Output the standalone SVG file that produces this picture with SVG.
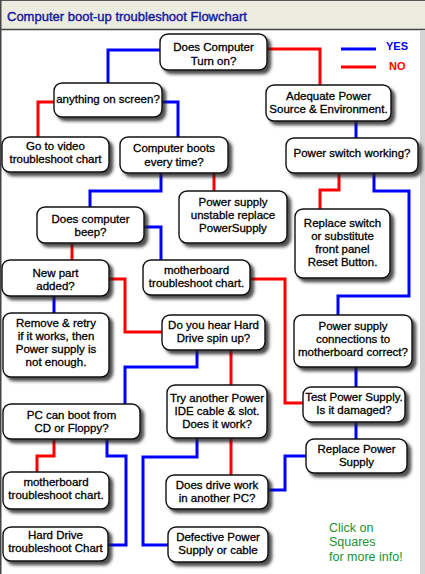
<svg xmlns="http://www.w3.org/2000/svg" width="425" height="574" viewBox="0 0 425 574">
<defs>
<filter id="sh" x="-10%" y="-10%" width="130%" height="140%">
<feDropShadow dx="3.5" dy="3.5" stdDeviation="1.8" flood-color="#222" flood-opacity="0.8"/>
</filter>
<style>
.box{fill:#fff;stroke:#111;stroke-width:1.4;filter:url(#sh)}
.t{font-family:"Liberation Sans",Arial,sans-serif;font-size:11.5px;fill:#000;text-anchor:middle;stroke:#000;stroke-width:0.3}
.y{fill:none;stroke:#0000ff;stroke-width:3}
.n{fill:none;stroke:#ff0000;stroke-width:3}
</style>
</defs>
<rect x="0" y="0" width="425" height="574" fill="#fff"/>
<rect x="0" y="0" width="425" height="30" fill="#ecebe0"/>
<line x1="0" y1="29.5" x2="425" y2="29.5" stroke="#444" stroke-width="1.5"/>
<line x1="0" y1="0.5" x2="425" y2="0.5" stroke="#555" stroke-width="1"/>
<line x1="0.75" y1="0" x2="0.75" y2="574" stroke="#444" stroke-width="1.5"/>
<rect x="420" y="30" width="5" height="544" fill="#d4d4d4"/>
<text x="7" y="21" font-family="Liberation Sans,Arial,sans-serif" font-size="13" fill="#16169c" stroke="#16169c" stroke-width="0.4">Computer boot-up troubleshoot Flowchart</text>

<g id="legend">
<line x1="341" y1="49" x2="376" y2="49" class="y"/>
<line x1="341" y1="67" x2="376" y2="67" class="n"/>
<text x="386" y="50" font-family="Liberation Sans,Arial,sans-serif" font-size="11" font-weight="bold" fill="#0000ff">YES</text>
<text x="389" y="70" font-family="Liberation Sans,Arial,sans-serif" font-size="11" font-weight="bold" fill="#ff0000">NO</text>
</g>

<g id="connectors">
<path class="y" d="M160,50 H108 V83"/>
<path class="n" d="M267,49 H320 V85"/>
<path class="n" d="M54,102 H38 V137"/>
<path class="y" d="M162,102 H178 V137"/>
<path class="y" d="M356,121 V138"/>
<path class="n" d="M339,173 V190 H320 V209"/>
<path class="y" d="M374,173 V191 H409 V296 H338 V315"/>
<path class="y" d="M161,173 V191 H90 V207"/>
<path class="n" d="M214,173 V191"/>
<path class="y" d="M144,227 H161 V260"/>
<path class="n" d="M72,243 V260"/>
<path class="n" d="M109,279 H125 V332 H162"/>
<path class="y" d="M54,296 V313"/>
<path class="n" d="M250,279 H285 V403 H303"/>
<path class="y" d="M356,367 V387"/>
<path class="y" d="M356,422 V439"/>
<path class="y" d="M197,350 V367 H125 V404"/>
<path class="n" d="M231,350 V385"/>
<path class="n" d="M54,439 V456 H37 V472"/>
<path class="y" d="M107,439 V456 H126 V545 H108"/>
<path class="y" d="M197,438 V457 H143 V545 H168"/>
<path class="n" d="M231,438 V475"/>
<path class="y" d="M268,490 H285 V456 H306"/>
</g>

<g id="n1"><rect class="box" x="160" y="34" width="107" height="36" rx="8"/><text class="t" x="213.5" y="51">Does Computer</text><text class="t" x="213.5" y="65">Turn on?</text></g>
<g id="n2"><rect class="box" x="54" y="83" width="108" height="34" rx="8"/><text class="t" x="108" y="103">anything on screen?</text></g>
<g id="n3"><rect class="box" x="2" y="137" width="107" height="35" rx="8"/><text class="t" x="55.5" y="150">Go to video</text><text class="t" x="55.5" y="163">troubleshoot chart</text></g>
<g id="n4"><rect class="box" x="120" y="137" width="108" height="36" rx="8"/><text class="t" x="174" y="152">Computer boots</text><text class="t" x="174" y="166">every time?</text></g>
<g id="n5"><rect class="box" x="266" y="85" width="125" height="36" rx="8"/><text class="t" x="328.5" y="100">Adequate Power</text><text class="t" x="328.5" y="113">Source &amp; Environment.</text></g>
<g id="n6"><rect class="box" x="286" y="138" width="132" height="35" rx="8"/><text class="t" x="352" y="157">Power switch working?</text></g>
<g id="n7"><rect class="box" x="179" y="191" width="108" height="52" rx="8"/><text class="t" x="233" y="206">Power supply</text><text class="t" x="233" y="219">unstable replace</text><text class="t" x="233" y="232">PowerSupply</text></g>
<g id="n8"><rect class="box" x="295" y="209" width="95" height="69" rx="8"/><text class="t" x="342.5" y="227">Replace switch</text><text class="t" x="342.5" y="240">or substitute</text><text class="t" x="342.5" y="253">front panel</text><text class="t" x="342.5" y="266">Reset Button.</text></g>
<g id="n9"><rect class="box" x="37" y="207" width="107" height="36" rx="8"/><text class="t" x="90.5" y="223">Does computer</text><text class="t" x="90.5" y="236">beep?</text></g>
<g id="n10"><rect class="box" x="2" y="260" width="107" height="36" rx="8"/><text class="t" x="55.5" y="277">New part</text><text class="t" x="55.5" y="290">added?</text></g>
<g id="n11"><rect class="box" x="143" y="260" width="107" height="35" rx="8"/><text class="t" x="196.5" y="274">motherboard</text><text class="t" x="196.5" y="287">troubleshoot chart.</text></g>
<g id="n12"><rect class="box" x="3" y="313" width="106" height="64" rx="8"/><text class="t" x="56" y="327">Remove &amp; retry</text><text class="t" x="56" y="340">if it works, then</text><text class="t" x="56" y="353">Power supply is</text><text class="t" x="56" y="366">not enough.</text></g>
<g id="n13"><rect class="box" x="162" y="315" width="103" height="35" rx="8"/><text class="t" x="213.5" y="329">Do you hear Hard</text><text class="t" x="213.5" y="342">Drive spin up?</text></g>
<g id="n14"><rect class="box" x="294" y="315" width="118" height="52" rx="8"/><text class="t" x="353" y="330">Power supply</text><text class="t" x="353" y="343">connections to</text><text class="t" x="353" y="356">motherboard correct?</text></g>
<g id="n15"><rect class="box" x="3" y="404" width="137" height="35" rx="8"/><text class="t" x="71.5" y="419">PC can boot from</text><text class="t" x="71.5" y="432">CD or Floppy?</text></g>
<g id="n16"><rect class="box" x="167" y="385" width="100" height="53" rx="8"/><text class="t" x="217" y="402">Try another Power</text><text class="t" x="217" y="415">IDE cable &amp; slot.</text><text class="t" x="217" y="428">Does it work?</text></g>
<g id="n17"><rect class="box" x="303" y="387" width="102" height="35" rx="8"/><text class="t" x="354" y="401">Test Power Supply.</text><text class="t" x="354" y="414">Is it damaged?</text></g>
<g id="n18"><rect class="box" x="3" y="472" width="106" height="37" rx="8"/><text class="t" x="56" y="486">motherboard</text><text class="t" x="56" y="499">troubleshoot chart.</text></g>
<g id="n19"><rect class="box" x="306" y="439" width="101" height="34" rx="8"/><text class="t" x="356.5" y="453">Replace Power</text><text class="t" x="356.5" y="466">Supply</text></g>
<g id="n20"><rect class="box" x="166" y="475" width="102" height="34" rx="8"/><text class="t" x="217" y="489">Does drive work</text><text class="t" x="217" y="502">in another PC?</text></g>
<g id="n21"><rect class="box" x="3" y="527" width="105" height="34" rx="8"/><text class="t" x="55.5" y="539">Hard Drive</text><text class="t" x="55.5" y="552">troubleshoot Chart</text></g>
<g id="n22"><rect class="box" x="168" y="527" width="100" height="35" rx="8"/><text class="t" x="218" y="541">Defective Power</text><text class="t" x="218" y="554">Supply or cable</text></g>

<g id="note" font-family="Liberation Sans,Arial,sans-serif" font-size="12.5" fill="#22922a">
<text x="329" y="532">Click on</text>
<text x="329" y="546">Squares</text>
<text x="329" y="561">for more info!</text>
</g>
</svg>
